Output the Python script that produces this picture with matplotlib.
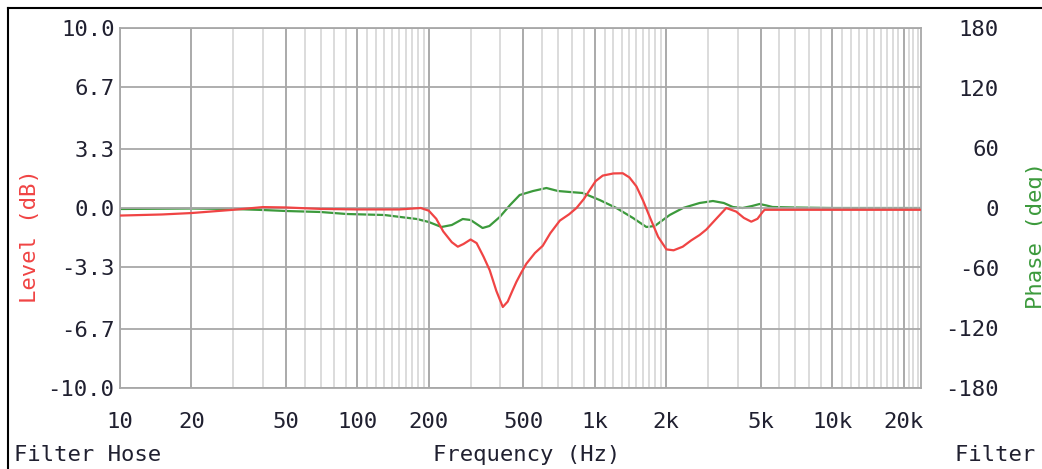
#!/usr/bin/env python3
"""Filter hose: level and phase response versus frequency."""
import matplotlib
matplotlib.use("Agg")
import matplotlib.pyplot as plt
from matplotlib.lines import Line2D
from matplotlib.ticker import FixedLocator, NullFormatter

W, H = 1042, 469
FONT = "DejaVu Sans Mono"
TEXT_COLOR = "#202030"
RED = "#f04444"
GREEN = "#3c9a3c"

# level curve (Hz, dB)
LEVEL_FREQ = [10, 15, 20, 30, 40, 50, 70, 100, 150, 185, 200, 215, 230, 250,
              265, 280, 300, 318, 340, 361, 385, 410, 430, 450, 468, 490, 515,
              560, 604, 650, 713, 780, 838, 900, 953, 1010, 1081, 1200, 1313,
              1400, 1499, 1600, 1706, 1850, 2006, 2150, 2349, 2550, 2767, 2951,
              3250, 3583, 3946, 4250, 4567, 4850, 5113, 5200, 24000]
LEVEL_DB = [-0.42, -0.36, -0.28, -0.10, 0.05, 0.03, -0.05, -0.08, -0.08, 0.0,
            -0.15, -0.6, -1.3, -1.9, -2.15, -2.0, -1.75, -1.95, -2.7, -3.45,
            -4.6, -5.5, -5.2, -4.6, -4.1, -3.6, -3.1, -2.5, -2.1, -1.4, -0.7,
            -0.35, 0.0, 0.5, 1.0, 1.5, 1.8, 1.92, 1.93, 1.7, 1.2, 0.4, -0.5,
            -1.6, -2.3, -2.35, -2.15, -1.8, -1.5, -1.2, -0.6, 0.0, -0.2, -0.55,
            -0.76, -0.6, -0.2, -0.1, -0.1]

# phase curve (Hz, deg)
PHASE_FREQ = [10, 20, 30, 40, 50, 70, 90, 130, 178, 200, 226, 250, 278, 300,
              337, 360, 398, 440, 483, 550, 626, 700, 785, 890, 1049, 1234,
              1450, 1651, 1791, 2070, 2355, 2767, 3148, 3500, 3819, 4198, 4600,
              4951, 5300, 5611, 7000, 10000, 24000]
PHASE_DEG = [-1, -0.5, -1, -2, -3, -4, -6, -7, -11, -14, -19, -17, -11, -12,
             -20, -18, -9, 3, 13, 17, 20, 17, 16, 15, 8, 0, -10, -19, -18, -7,
             0, 5, 7, 5, 1, 0, 2, 4, 2.5, 1, 0.5, 0, 0]

MAJOR_FREQ = [10, 20, 50, 100, 200, 500, 1000, 2000, 5000, 10000, 20000]
MAJOR_LABELS = ["10", "20", "50", "100", "200", "500", "1k", "2k", "5k",
                "10k", "20k"]
MINOR_FREQ = ([30, 40, 60, 70, 80, 90]
              + list(range(110, 200, 10)) + [300, 400, 600, 700, 800, 900]
              + list(range(1100, 2000, 100)) + [3000, 4000, 6000, 7000, 8000, 9000]
              + list(range(11000, 20000, 1000)) + [21000, 22000, 23000])

LEVEL_TICKS = [-10.0, -6.7, -3.3, 0.0, 3.3, 6.7, 10.0]
PHASE_TICKS = [-180, -120, -60, 0, 60, 120, 180]


def px(x, y):
    return x / W, 1 - y / H


def main():
    fig = plt.figure(figsize=(W / 100, H / 100), dpi=100)
    left, top = px(120, 28)
    right, bottom = px(921, 388)
    ax = fig.add_axes([left, bottom, right - left, top - bottom])

    ax.set_xscale("log")
    ax.set_xlim(10, 23700)
    ax.set_ylim(-10, 10)
    ax.xaxis.set_major_locator(FixedLocator(MAJOR_FREQ))
    ax.xaxis.set_minor_locator(FixedLocator(MINOR_FREQ))
    ax.xaxis.set_minor_formatter(NullFormatter())
    ax.set_xticks(MAJOR_FREQ, MAJOR_LABELS)
    ax.set_yticks(LEVEL_TICKS, [f"{v:.1f}" for v in LEVEL_TICKS])
    ax.grid(which="major", axis="x", color="#a4a4a4", linewidth=1.3)
    ax.grid(which="minor", axis="x", color="#d2d2d2", linewidth=1.1)
    ax.grid(which="major", axis="y", color="#a8a8a8", linewidth=1.3)
    ax.set_axisbelow(True)
    ax.tick_params(which="both", length=0)
    ax.tick_params(axis="x", pad=17, labelsize=16, labelcolor=TEXT_COLOR)
    ax.tick_params(axis="y", pad=4, labelsize=16, labelcolor=TEXT_COLOR)
    for lab in ax.get_xticklabels() + ax.get_yticklabels():
        lab.set_fontfamily(FONT)
    for spine in ax.spines.values():
        spine.set_color("#a8a8a8")
        spine.set_linewidth(1.3)

    ax2 = ax.twinx()
    ax2.set_ylim(-180, 180)
    ax2.set_yticks(PHASE_TICKS, [str(v) for v in PHASE_TICKS])
    ax2.tick_params(length=0, pad=56, labelsize=16, labelcolor=TEXT_COLOR)
    for lab in ax2.get_yticklabels():
        lab.set_fontfamily(FONT)
        lab.set_horizontalalignment("right")
    for spine in ax2.spines.values():
        spine.set_visible(False)

    ax.plot(LEVEL_FREQ, LEVEL_DB, color=RED, linewidth=1.6, zorder=4)
    ax2.plot(PHASE_FREQ, PHASE_DEG, color=GREEN, linewidth=1.6, zorder=3)
    ax.set_zorder(ax2.get_zorder() + 1)
    ax.patch.set_visible(False)

    fig.text(*px(30, 236), "Level (dB)", rotation=90, ha="center",
             va="center", color=RED, fontsize=16, family=FONT)
    fig.text(*px(1036, 235), "Phase (deg)", rotation=90, ha="center",
             va="center", color=GREEN, fontsize=16, family=FONT)
    fig.text(*px(527, 455), "Frequency (Hz)", ha="center", va="center",
             color=TEXT_COLOR, fontsize=16, family=FONT)
    fig.text(*px(14, 455), "Filter Hose", ha="left", va="center",
             color=TEXT_COLOR, fontsize=16, family=FONT)
    fig.text(*px(955, 455), "Filter Hose", ha="left", va="center",
             color=TEXT_COLOR, fontsize=16, family=FONT)

    # screenshot frame on the left and top
    fig.add_artist(Line2D([8 / W, 8 / W], [0, 1 - 8 / H], color="black",
                          linewidth=1.5, transform=fig.transFigure))
    fig.add_artist(Line2D([8 / W, 1], [1 - 8 / H, 1 - 8 / H], color="black",
                          linewidth=1.5, transform=fig.transFigure))

    fig.savefig("out.png", dpi=100)


if __name__ == "__main__":
    main()
